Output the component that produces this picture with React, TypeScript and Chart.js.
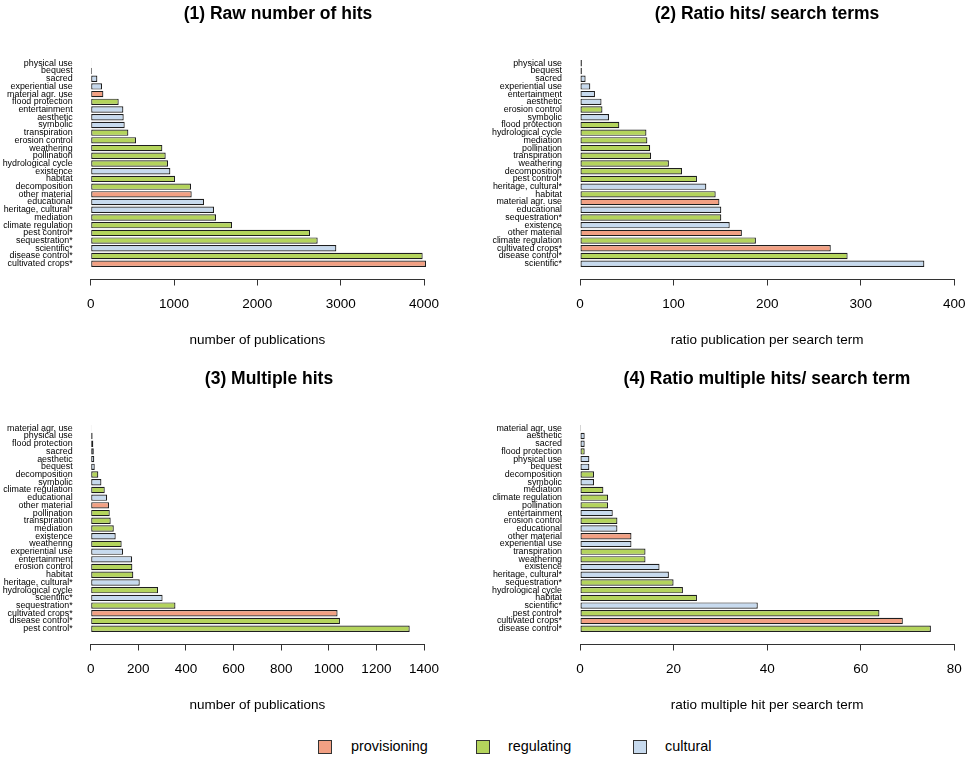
import React, { useEffect, useRef } from "react";
import { Chart, registerables } from "chart.js";

Chart.register(...registerables);

const FONT = "'Liberation Sans', Arial, Helvetica, sans-serif";

// ---- data ----
const provisioningTerms = ["material agr. use", "other material", "cultivated crops*"];
const culturalTerms = [
  "physical use", "bequest", "sacred", "experiential use", "entertainment", "aesthetic",
  "symbolic", "existence", "educational", "heritage, cultural*", "scientific*",
];
// everything else is regulating
const legendGroups = ["provisioning", "regulating", "cultural"];
const groupColors: Record<string, string> = {
  provisioning: "#F2A083",
  regulating: "#B4D45C",
  cultural: "#C7DAEE",
};

const rawCategories = [
  "physical use", "bequest", "sacred", "experiential use", "material agr. use", "flood protection",
  "entertainment", "aesthetic", "symbolic", "transpiration", "erosion control", "weathering",
  "pollination", "hydrological cycle", "existence", "habitat", "decomposition", "other material",
  "educational", "heritage, cultural*", "mediation", "climate regulation", "pest control*",
  "sequestration*", "scientific*", "disease control*", "cultivated crops*",
];
const rawValues = [
  8, 15, 80, 136, 152, 336, 392, 396, 408, 452, 544, 860, 900, 928, 956, 1012, 1204, 1212, 1360,
  1480, 1504, 1696, 2632, 2724, 2948, 3984, 4024,
];

const ratioCategories = [
  "physical use", "bequest", "sacred", "experiential use", "entertainment", "aesthetic",
  "erosion control", "symbolic", "flood protection", "hydrological cycle", "mediation", "pollination",
  "transpiration", "weathering", "decomposition", "pest control*", "heritage, cultural*", "habitat",
  "material agr. use", "educational", "sequestration*", "existence", "other material",
  "climate regulation", "cultivated crops*", "disease control*", "scientific*",
];
const ratioValues = [
  2, 2, 6, 11, 16, 23, 24, 31, 42, 71, 72, 75, 76, 95, 109, 125, 135, 145, 149, 151, 151, 160, 173,
  188, 268, 286, 368,
];

const multiCategories = [
  "material agr. use", "physical use", "flood protection", "sacred", "aesthetic", "bequest",
  "decomposition", "symbolic", "climate regulation", "educational", "other material", "pollination",
  "transpiration", "mediation", "existence", "weathering", "experiential use", "entertainment",
  "erosion control", "habitat", "heritage, cultural*", "hydrological cycle", "scientific*",
  "sequestration*", "cultivated crops*", "disease control*", "pest control*",
];
const multiValues = [
  1, 8, 11, 13, 15, 17, 32, 45, 59, 69, 77, 80, 84, 97, 105, 130, 136, 174, 175, 179, 206, 283, 302,
  356, 1037, 1047, 1340,
];

const multiRatioCategories = [
  "material agr. use", "aesthetic", "sacred", "flood protection", "physical use", "bequest",
  "decomposition", "symbolic", "mediation", "climate regulation", "pollination", "entertainment",
  "erosion control", "educational", "other material", "experiential use", "transpiration",
  "weathering", "existence", "heritage, cultural*", "sequestration*", "hydrological cycle",
  "habitat", "scientific*", "pest control*", "cultivated crops*", "disease control*",
];
const multiRatioValues = [
  0.2, 1, 1, 1, 2, 2, 3, 3, 5, 6, 6, 7, 8, 8, 11, 11, 14, 14, 17, 19, 20, 22, 25, 38, 64, 69, 75,
];

const panelTitles = [
  "(1) Raw number of hits",
  "(2) Ratio hits/ search terms",
  "(3) Multiple hits",
  "(4) Ratio multiple hits/ search term",
];
const axisTitles = [
  "number of publications",
  "ratio publication per search term",
  "number of publications",
  "ratio multiple hit per search term",
];
const axisMax = [4000, 400, 1400, 80];
const axisStep = [1000, 100, 200, 20];

function groupOf(term: string): string {
  if (provisioningTerms.includes(term)) return "provisioning";
  if (culturalTerms.includes(term)) return "cultural";
  return "regulating";
}

// ---- layout ----
const PANEL_H = 365;
const CHART_TOP = 47.5;
const CHART_BOTTOM = 279.5;
const PAD_ROWS = 1.49;

type PanelProps = {
  left: number;
  top: number;
  width: number;
  yWidth: number;
  rightWidth: number;
  title: string;
  categories: string[];
  values: number[];
  xMax: number;
  xStep: number;
  xTitle: string;
};

function Panel(p: PanelProps) {
  const ref = useRef<HTMLCanvasElement>(null);
  useEffect(() => {
    const n = p.categories.length;
    const chart = new Chart(ref.current!, {
      type: "bar",
      data: {
        datasets: [
          {
            data: p.values.map((v, i) => ({ x: v, y: i })),
            backgroundColor: p.categories.map((c) => groupColors[groupOf(c)]),
            borderColor: "#1e1e1e",
            borderWidth: 1.2,
            borderSkipped: false,
            barPercentage: 0.83,
            categoryPercentage: 1,
            clip: false,
            xAxisID: "x",
            yAxisID: "y",
          } as any,
        ],
      },
      options: {
        indexAxis: "y",
        responsive: false,
        animation: false,
        layout: { padding: 0 },
        plugins: {
          legend: { display: false },
          tooltip: { enabled: false },
          title: {
            display: true,
            text: p.title,
            color: "#000",
            align: "center",
            fullSize: true,
            font: { family: FONT, size: 17.5, weight: "bold", lineHeight: 1.2 },
            padding: { top: 4, bottom: CHART_TOP - 4 - 21 },
          },
        },
        scales: {
          x: {
            type: "linear",
            position: "bottom",
            min: 0,
            max: p.xMax,
            afterFit: (s: any) => {
              s.height = PANEL_H - CHART_BOTTOM;
            },
            ticks: {
              stepSize: p.xStep,
              padding: 11,
              color: "#000",
              maxRotation: 0,
              autoSkip: false,
              font: { family: FONT, size: 13.5 },
              callback: (v: any) => String(v),
            },
            grid: {
              display: true,
              drawOnChartArea: false,
              drawTicks: true,
              tickLength: 6,
              color: "#333",
              lineWidth: 1,
            },
            border: { display: true, color: "#333", width: 1 },
            title: {
              display: true,
              text: p.xTitle,
              color: "#000",
              font: { family: FONT, size: 13.5, lineHeight: 1.2 },
              padding: { top: 0, bottom: PANEL_H - (CHART_BOTTOM + 61) - 8.1 },
            },
          },
          y: {
            type: "linear",
            position: "left",
            reverse: true,
            min: -PAD_ROWS,
            max: n - 1 + PAD_ROWS,
            afterBuildTicks: (s: any) => {
              s.ticks = p.categories.map((_, i) => ({ value: i }));
            },
            afterFit: (s: any) => {
              s.width = p.yWidth;
            },
            ticks: {
              autoSkip: false,
              padding: 18,
              color: "#000",
              font: { family: FONT, size: 8.9 },
              callback: (v: any) => p.categories[Math.round(Number(v))],
            },
            grid: { display: false, drawTicks: false },
            border: { display: false },
          },
          y2: {
            type: "linear",
            position: "right",
            display: true,
            afterFit: (s: any) => {
              s.width = p.rightWidth;
            },
            ticks: { display: false },
            grid: { display: false, drawTicks: false },
            border: { display: false },
          },
        },
      } as any,
    });
    return () => chart.destroy();
  }, []);
  return (
    <canvas
      ref={ref}
      width={p.width}
      height={PANEL_H}
      style={{ position: "absolute", left: p.left, top: p.top, width: p.width, height: PANEL_H }}
    />
  );
}

const legendSwatchX = [318, 476, 633];
const legendTextX = [351, 508, 665];

export default function App() {
  return (
    <div
      style={{
        position: "absolute",
        left: 0,
        top: 0,
        width: 970,
        height: 760,
        overflow: "hidden",
        background: "#fff",
      }}
    >
      <Panel left={0} top={0} width={556} yWidth={90.7} rightWidth={132}
        title={panelTitles[0]} categories={rawCategories} values={rawValues}
        xMax={axisMax[0]} xStep={axisStep[0]} xTitle={axisTitles[0]} />
      <Panel left={485} top={0} width={564} yWidth={95} rightWidth={94.7}
        title={panelTitles[1]} categories={ratioCategories} values={ratioValues}
        xMax={axisMax[1]} xStep={axisStep[1]} xTitle={axisTitles[1]} />
      <Panel left={0} top={365} width={538} yWidth={90.7} rightWidth={114}
        title={panelTitles[2]} categories={multiCategories} values={multiValues}
        xMax={axisMax[2]} xStep={axisStep[2]} xTitle={axisTitles[2]} />
      <Panel left={485} top={365} width={564} yWidth={95} rightWidth={94.7}
        title={panelTitles[3]} categories={multiRatioCategories} values={multiRatioValues}
        xMax={axisMax[3]} xStep={axisStep[3]} xTitle={axisTitles[3]} />
      {legendGroups.map((g, i) => (
        <React.Fragment key={g}>
          <div
            style={{
              position: "absolute",
              left: legendSwatchX[i],
              top: 740,
              width: 12,
              height: 12,
              background: groupColors[g],
              border: "1px solid #333",
            }}
          />
          <div
            style={{
              position: "absolute",
              left: legendTextX[i],
              top: 738,
              fontFamily: FONT,
              fontSize: 14.4,
              lineHeight: "17px",
              color: "#000",
              whiteSpace: "nowrap",
            }}
          >
            {g}
          </div>
        </React.Fragment>
      ))}
    </div>
  );
}
